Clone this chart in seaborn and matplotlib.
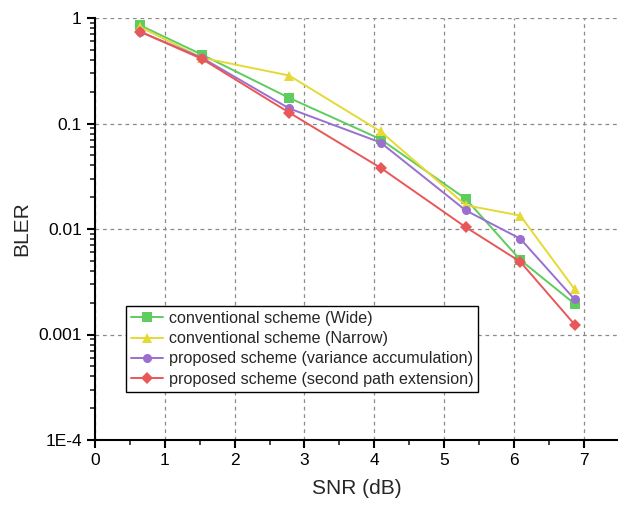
import matplotlib
matplotlib.use("Agg")
import matplotlib.pyplot as plt
import seaborn as sns
import pandas as pd
import numpy as np
from matplotlib.ticker import LogLocator, FixedLocator, NullFormatter, MultipleLocator

snr = [0.65, 1.53, 2.78, 4.09, 5.31, 6.09, 6.87]
wide = [0.85, 0.45, 0.175, 0.071, 0.0193, 0.0051, 0.00195]
narrow = [0.82, 0.42, 0.285, 0.084, 0.0168, 0.0134, 0.00268]
variance = [0.74, 0.42, 0.139, 0.066, 0.015, 0.0081, 0.00215]
second = [0.74, 0.41, 0.127, 0.038, 0.0104, 0.0049, 0.00124]

labels = ["conventional scheme (Wide)", "conventional scheme (Narrow)",
          "proposed scheme (variance accumulation)", "proposed scheme (second path extension)"]
colors = ["#5ecc5e", "#e5d935", "#9b6fd0", "#e85858"]
markers = ["s", "^", "o", "D"]

sns.set_style("ticks")
plt.rcParams['font.family'] = ['Liberation Sans', 'DejaVu Sans']

df = pd.DataFrame({
    "SNR": snr * 4,
    "BLER": wide + narrow + variance + second,
    "scheme": [l for l in labels for _ in snr],
})

fig = plt.figure(figsize=(6.18, 5.05), dpi=100)
ax = fig.add_axes([95/618, 1 - 440/505, (618-95)/618, (440-18)/505])

for lab, c, m in zip(labels, colors, markers):
    sub = df[df["scheme"] == lab]
    sns.lineplot(data=sub, x="SNR", y="BLER", ax=ax, color=c, marker=m,
                 markersize=6.5 if m != "D" else 6, markeredgewidth=0, linewidth=1.4,
                 label=lab, sort=False)

ax.set_yscale("log")
ax.set_ylim(1e-4, 1)
ax.set_xlim(0, 7.49)
ax.yaxis.set_major_locator(FixedLocator([1e-4, 1e-3, 1e-2, 1e-1, 1]))
ax.set_yticklabels(["1E-4", "0.001", "0.01", "0.1", "1"])
ax.yaxis.set_minor_locator(LogLocator(base=10, subs=np.arange(2, 10)))
ax.yaxis.set_minor_formatter(NullFormatter())
ax.xaxis.set_major_locator(MultipleLocator(1))
ax.xaxis.set_minor_locator(MultipleLocator(0.5))

ax.grid(True, which="major", linestyle=(0, (3, 3)), color="#8a8a8a", linewidth=0.9)
for s in ["top", "right"]:
    ax.spines[s].set_visible(False)
for s in ["left", "bottom"]:
    ax.spines[s].set_linewidth(1.5)
    ax.spines[s].set_color("black")
ax.tick_params(which="major", length=6, width=1.5, direction="out", labelsize=12.5, colors="black")
ax.tick_params(which="minor", length=3.5, width=1.2, direction="out")
ax.set_xlabel("SNR (dB)", fontsize=15, labelpad=8)
ax.set_ylabel("BLER", fontsize=15, labelpad=5)

leg = ax.legend(loc="upper left", bbox_to_anchor=((126-95)/523, (440-306)/422),
                fontsize=11.6, frameon=True, fancybox=False, shadow=False,
                framealpha=1, edgecolor="black", handlelength=2.0, handletextpad=0.35,
                borderpad=0.3, labelspacing=0.33, borderaxespad=0)
leg.get_frame().set_linewidth(1.0)

fig.savefig("out.png", dpi=100)
